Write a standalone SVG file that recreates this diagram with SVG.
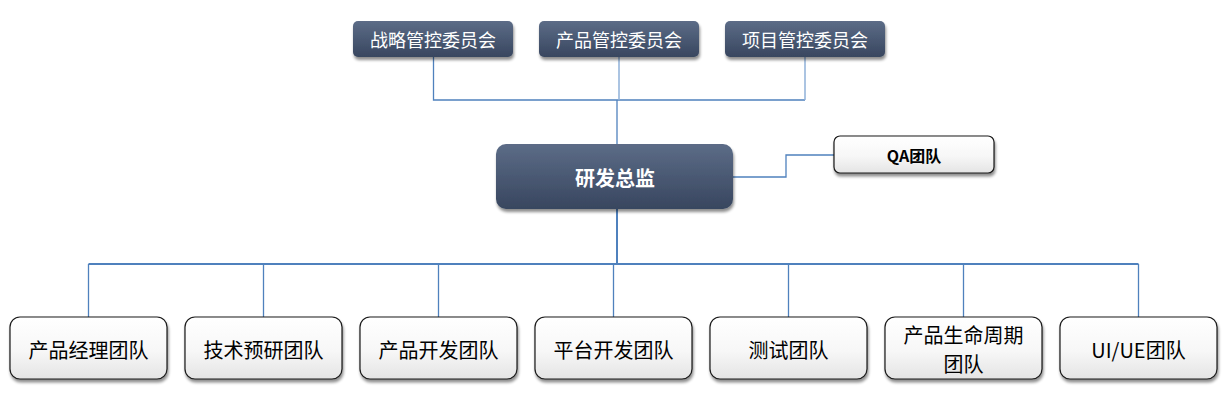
<svg xmlns="http://www.w3.org/2000/svg" width="1225" height="419" viewBox="0 0 1225 419">
<defs>
<linearGradient id="dark" x1="0" y1="0" x2="0" y2="1">
<stop offset="0" stop-color="#5c6c87"/>
<stop offset="1" stop-color="#38465f"/>
</linearGradient>
<linearGradient id="light" x1="0" y1="0" x2="0" y2="1">
<stop offset="0" stop-color="#ffffff"/>
<stop offset="0.55" stop-color="#f7f7f7"/>
<stop offset="1" stop-color="#e4e4e4"/>
</linearGradient>
<filter id="sh" x="-10%" y="-20%" width="125%" height="150%">
<feGaussianBlur in="SourceAlpha" stdDeviation="1.6"/>
<feOffset dx="1" dy="2.5" result="b"/>
<feComponentTransfer><feFuncA type="linear" slope="0.45"/></feComponentTransfer>
<feMerge><feMergeNode/><feMergeNode in="SourceGraphic"/></feMerge>
</filter>
</defs>
<style>
.dk{fill:url(#dark);filter:url(#sh)}
.lt{fill:url(#light);stroke:#1a1a1a;stroke-width:1.2;filter:url(#sh)}
.wt{font-family:"Microsoft YaHei","Noto Sans CJK SC","Noto Sans",sans-serif;fill:#ffffff;text-anchor:middle;dominant-baseline:central}
.bt{font-family:"Microsoft YaHei","Noto Sans CJK SC","Noto Sans",sans-serif;fill:#000000;text-anchor:middle;dominant-baseline:central;font-size:20px}
.ln{fill:none;stroke:#4f81bd;stroke-width:1.3}
.ln2{fill:none;stroke:#4f81bd;stroke-width:2}
.lnl{fill:none;stroke:#8fb0d8;stroke-width:1.5}
</style>
<rect width="1225" height="419" fill="#ffffff"/>
<g id="connectors">
<path class="ln" d="M433.5 57 V100 H805"/>
<path class="lnl" d="M619 57 V100"/>
<path class="lnl" d="M805 57 V100"/>
<path class="ln" d="M617 100 V144"/>
<path class="ln" d="M733 177 H786 V155 H834"/>
<path class="ln2" d="M617 209 V264"/>
<path class="ln2" d="M88.5 264 H1138.5"/>
<path class="ln" d="M88.5 264 V317 M263.5 264 V317 M438.5 264 V317 M613.5 264 V317 M788.5 264 V317 M963.5 264 V317 M1138.5 264 V317"/>
</g>
<g id="n_zhanlue">
<rect class="dk" x="353" y="21" width="160" height="36" rx="5"/>
<text class="wt" x="433" y="39" font-size="18">战略管控委员会</text>
</g>
<g id="n_chanpin_gk">
<rect class="dk" x="539" y="21" width="160" height="36" rx="5"/>
<text class="wt" x="619" y="39" font-size="18">产品管控委员会</text>
</g>
<g id="n_xiangmu">
<rect class="dk" x="725" y="21" width="160" height="36" rx="5"/>
<text class="wt" x="805" y="39" font-size="18">项目管控委员会</text>
</g>
<g id="n_zongjian">
<rect class="dk" x="496" y="144" width="237" height="65" rx="10"/>
<text class="wt" x="615" y="177" font-size="20" font-weight="bold">研发总监</text>
</g>
<g id="n_qa">
<rect class="lt" x="834" y="136" width="160" height="37" rx="6"/>
<text class="bt" x="914" y="155" font-weight="bold" style="font-size:16px">QA团队</text>
</g>
<g id="n_t1">
<rect class="lt" x="10" y="317" width="157" height="62" rx="10"/>
<text class="bt" x="88.5" y="349">产品经理团队</text>
</g>
<g id="n_t2">
<rect class="lt" x="185" y="317" width="157" height="62" rx="10"/>
<text class="bt" x="263.5" y="349">技术预研团队</text>
</g>
<g id="n_t3">
<rect class="lt" x="360" y="317" width="157" height="62" rx="10"/>
<text class="bt" x="438.5" y="349">产品开发团队</text>
</g>
<g id="n_t4">
<rect class="lt" x="535" y="317" width="157" height="62" rx="10"/>
<text class="bt" x="613.5" y="349">平台开发团队</text>
</g>
<g id="n_t5">
<rect class="lt" x="710" y="317" width="157" height="62" rx="10"/>
<text class="bt" x="788.5" y="349">测试团队</text>
</g>
<g id="n_t6">
<rect class="lt" x="885" y="317" width="157" height="62" rx="10"/>
<text class="bt" x="963.5" y="334.5">产品生命周期</text>
<text class="bt" x="963.5" y="363">团队</text>
</g>
<g id="n_t7">
<rect class="lt" x="1060" y="317" width="157" height="62" rx="10"/>
<text class="bt" x="1138.5" y="349">UI/UE团队</text>
</g>
</svg>
